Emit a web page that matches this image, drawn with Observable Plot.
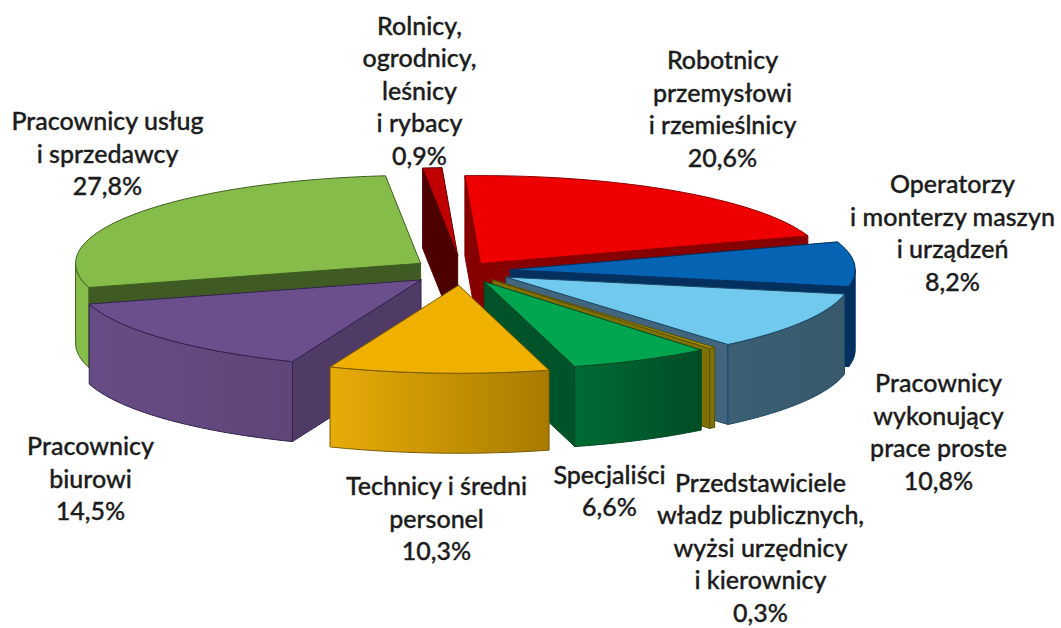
<!DOCTYPE html>
<html><head><meta charset="utf-8">
<style>html,body{margin:0;padding:0;background:#fff}svg{display:block}</style>
<script src="https://cdn.jsdelivr.net/npm/d3@7"></script>
<script src="https://cdn.jsdelivr.net/npm/@observablehq/plot@0.6"></script>
</head><body><div id="chart"></div>
<script>
// DATA (clockwise from the top of the pie)
const categories = [
  "Robotnicy\nprzemysłowi\ni rzemieślnicy",
  "Operatorzy\ni monterzy maszyn\ni urządzeń",
  "Pracownicy\nwykonujący\nprace proste",
  "Przedstawiciele\nwładz publicznych,\nwyżsi urzędnicy\ni kierownicy",
  "Specjaliści",
  "Technicy i średni\npersonel",
  "Pracownicy\nbiurowi",
  "Pracownicy usług\ni sprzedawcy",
  "Rolnicy,\nogrodnicy,\nleśnicy\ni rybacy"
];
const shares = [20.6, 8.2, 10.8, 0.3, 6.6, 10.3, 14.5, 27.8, 0.9];
// how far each slice is pulled out of the pie
const explode = [0.095, 0.14, 0.148, 0.14, 0.142, 0.168, 0.16, 0.145, 0.17];

// STYLE
const topColor   = ["#ee0000","#0563b3","#72c9ee","#a89400","#00a550","#f0b000","#6b4f8c","#86bd4a","#c00000"];
const edgeColor  = ["#8a0000","#03305f","#1c4a66","#5a5000","#004a25","#7a5c00","#33234d","#3f5f20","#5a0000"];
const radialFill = ["#860000","#03305f","#40657d","#7f7000","#005228","#a97c00","#4f3b66","#3f5a22","#4d0000"];
const wallFrom   = ["#860000","#03305f","#3b5f73","#7f7000","#006b34","#e8ac08","#664c84","#86bd4a","#4d0000"];
const wallTo     = ["#860000","#03305f","#38596c","#7f7000","#004d25","#a87b00","#5e4679","#86bd4a","#4d0000"];
// back-to-front painting order
const paintOrder = [8, 0, 7, 1, 6, 2, 3, 4, 5];

// LAYOUT
const W = 1061, H = 628;
const cx = 461.5, cy = 270, rx = 345, ry = 88, depth = 80, startDeg = -2.6;
const labelX = [722, 952, 938, 760, 609, 436, 90, 107, 419];
const labelY = [107, 231, 430, 546, 489, 517, 477, 152, 89];

const rad = d => d * Math.PI / 180;
const dirX = a => rx * Math.sin(rad(a));
const dirY = a => -ry * Math.cos(rad(a));
let acc = startDeg;
const slices = shares.map((s, i) => {
  const a0 = acc, a1 = acc + s * 3.6; acc = a1;
  const m = (a0 + a1) / 2;
  return {i, a0, a1, ax: cx + explode[i] * dirX(m), ay: cy + explode[i] * dirY(m)};
});
const rim = (s, a, dz = 0) => ({x: s.ax + dirX(a), y: s.ay + dirY(a) + dz});
const arc = (s, a0, a1, dz = 0) => {
  const n = Math.max(2, Math.ceil(Math.abs(a1 - a0) / 1.5));
  return d3.range(n + 1).map(k => rim(s, a0 + (a1 - a0) * k / n, dz));
};
const closed = pts => [...pts, pts[0]];
const face = (pts, fill, stroke) => Plot.line(closed(pts), {x: "x", y: "y", fill, stroke, strokeWidth: 1, curve: "linear", strokeLinejoin: "round"});

const marks = [];
// gradient defs for the curved outer walls
marks.push(() => {
  const ns = "http://www.w3.org/2000/svg";
  const defs = document.createElementNS(ns, "defs");
  slices.forEach(s => {
    const g = document.createElementNS(ns, "linearGradient");
    g.setAttribute("id", "wall" + s.i);
    [[0, wallFrom[s.i]], [1, wallTo[s.i]]].forEach(([o, c]) => {
      const st = document.createElementNS(ns, "stop");
      st.setAttribute("offset", o); st.setAttribute("stop-color", c);
      g.appendChild(st);
    });
    defs.appendChild(g);
  });
  const g = document.createElementNS(ns, "g");
  g.appendChild(defs);
  return g;
});

for (const i of paintOrder) {
  const s = slices[i], c = edgeColor[i];
  const apex = {x: s.ax, y: s.ay}, apexB = {x: s.ax, y: s.ay + depth};
  const wall = a => [apex, rim(s, a), rim(s, a, depth), apexB];
  if (Math.sin(rad(s.a0)) < 0) marks.push(face(wall(s.a0), radialFill[i], c));
  if (Math.sin(rad(s.a1)) > 0) marks.push(face(wall(s.a1), radialFill[i], c));
  // outer wall: only the part of the rim that faces the viewer
  const v0 = Math.max(s.a0, 90), v1 = Math.min(s.a1, 270);
  if (v1 > v0) marks.push(face([...arc(s, v0, v1), ...arc(s, v1, v0, depth)], `url(#wall${i})`, c));
  marks.push(face([apex, ...arc(s, s.a0, s.a1)], topColor[i], c));
}

const fmt = v => v.toFixed(1).replace(".", ",") + "%";
marks.push(Plot.text(categories.map((c, i) => ({t: c + "\n" + fmt(shares[i]), x: labelX[i], y: labelY[i]})), {
  x: "x", y: "y", text: "t", lineAnchor: "middle", textAnchor: "middle", lineHeight: 1.3,
  fontSize: 25, fontFamily: "Lato", fontWeight: 500, fill: "#1c1c1c", stroke: "#1c1c1c", strokeWidth: 0.35
}));

document.getElementById("chart").append(Plot.plot({
  width: W, height: H, margin: 0,
  x: {domain: [0, W], range: [0, W], axis: null},
  y: {domain: [H, 0], range: [H, 0], axis: null, reverse: false},
  style: {background: "#fff", overflow: "visible"},
  marks
}));
</script></body></html>
